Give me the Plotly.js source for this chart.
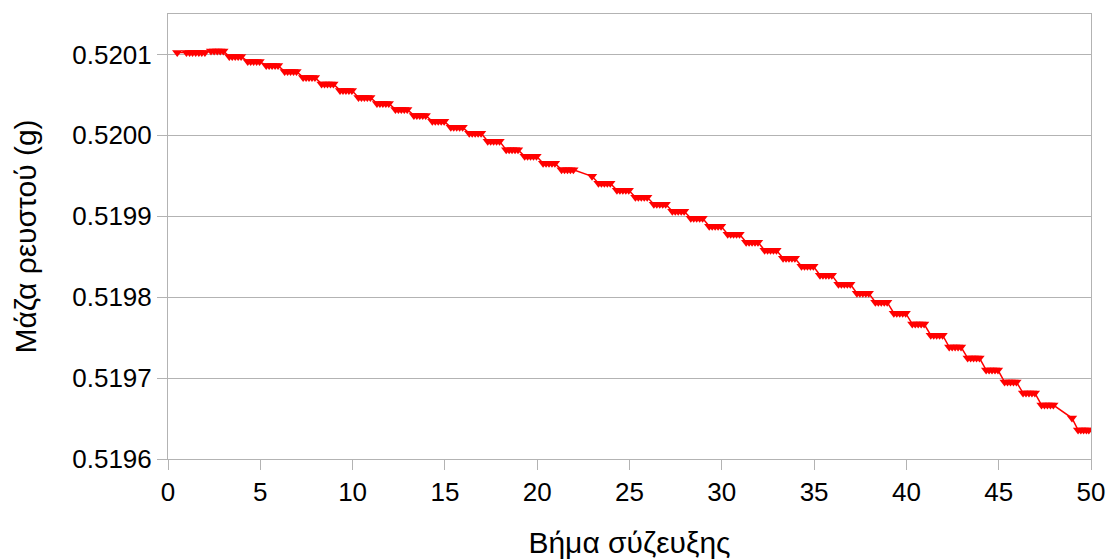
<!DOCTYPE html>
<html>
<head>
<meta charset="utf-8">
<script src="https://cdn.plot.ly/plotly-3.0.1.min.js"></script>
<style>html,body{margin:0;padding:0;background:#fff;}#chart{width:1107px;height:559px;}</style>
</head>
<body>
<div id="chart"></div>
<script>
// Coupling step (x) of each recorded point
const couplingStep = [
  0.5,
  1.0, 1.17, 1.33, 1.5, 1.67, 1.83, 2.0,
  2.33, 2.5, 2.67, 2.83, 3.0,
  3.32, 3.48, 3.64, 3.8, 3.96,
  4.32, 4.48, 4.64, 4.8, 4.96,
  5.32, 5.48, 5.64, 5.8, 5.96,
  6.32, 6.48, 6.64, 6.8, 6.96,
  7.32, 7.48, 7.64, 7.8, 7.96,
  8.32, 8.48, 8.64, 8.8, 8.96,
  9.32, 9.48, 9.64, 9.8, 9.96,
  10.32, 10.48, 10.64, 10.8, 10.96,
  11.32, 11.48, 11.64, 11.8, 11.96,
  12.32, 12.48, 12.64, 12.8, 12.96,
  13.32, 13.48, 13.64, 13.8, 13.96,
  14.32, 14.48, 14.64, 14.8, 14.96,
  15.32, 15.48, 15.64, 15.8, 15.96,
  16.32, 16.48, 16.64, 16.8, 16.96,
  17.32, 17.48, 17.64, 17.8, 17.96,
  18.32, 18.48, 18.64, 18.8, 18.96,
  19.32, 19.48, 19.64, 19.8, 19.96,
  20.32, 20.48, 20.64, 20.8, 20.96,
  21.32, 21.48, 21.64, 21.8, 21.96,
  22.97,
  23.32, 23.48, 23.64, 23.8, 23.96,
  24.32, 24.48, 24.64, 24.8, 24.96,
  25.32, 25.48, 25.64, 25.8, 25.96,
  26.32, 26.48, 26.64, 26.8, 26.96,
  27.32, 27.48, 27.64, 27.8, 27.96,
  28.32, 28.48, 28.64, 28.8, 28.96,
  29.32, 29.48, 29.64, 29.8, 29.96,
  30.32, 30.48, 30.64, 30.8, 30.96,
  31.32, 31.48, 31.64, 31.8, 31.96,
  32.32, 32.48, 32.64, 32.8, 32.96,
  33.32, 33.48, 33.64, 33.8, 33.96,
  34.32, 34.48, 34.64, 34.8, 34.96,
  35.32, 35.48, 35.64, 35.8, 35.96,
  36.32, 36.48, 36.64, 36.8, 36.96,
  37.32, 37.48, 37.64, 37.8, 37.96,
  38.32, 38.48, 38.64, 38.8, 38.96,
  39.32, 39.48, 39.64, 39.8, 39.96,
  40.32, 40.48, 40.64, 40.8, 40.96,
  41.32, 41.48, 41.64, 41.8, 41.96,
  42.32, 42.48, 42.64, 42.8, 42.96,
  43.32, 43.48, 43.64, 43.8, 43.96,
  44.32, 44.48, 44.64, 44.8, 44.96,
  45.32, 45.48, 45.64, 45.8, 45.96,
  46.32, 46.48, 46.64, 46.8, 46.96,
  47.32, 47.48, 47.64, 47.8, 47.96,
  48.97,
  49.3, 49.45, 49.6, 49.75, 49.88
];

// Fluid mass (g) at each recorded point
const fluidMass = [
  0.5201025,
  0.5201025, 0.5201025, 0.5201025, 0.5201025, 0.5201025, 0.5201025, 0.5201025,
  0.5201043, 0.5201043, 0.5201043, 0.5201043, 0.5201043,
  0.5200975, 0.5200975, 0.5200975, 0.5200975, 0.5200975,
  0.5200914, 0.5200914, 0.5200914, 0.5200914, 0.5200914,
  0.5200864, 0.5200864, 0.5200864, 0.5200864, 0.5200864,
  0.5200790, 0.5200790, 0.5200790, 0.5200790, 0.5200790,
  0.5200716, 0.5200716, 0.5200716, 0.5200716, 0.5200716,
  0.5200636, 0.5200636, 0.5200636, 0.5200636, 0.5200636,
  0.5200556, 0.5200556, 0.5200556, 0.5200556, 0.5200556,
  0.5200469, 0.5200469, 0.5200469, 0.5200469, 0.5200469,
  0.5200395, 0.5200395, 0.5200395, 0.5200395, 0.5200395,
  0.5200321, 0.5200321, 0.5200321, 0.5200321, 0.5200321,
  0.5200247, 0.5200247, 0.5200247, 0.5200247, 0.5200247,
  0.5200173, 0.5200173, 0.5200173, 0.5200173, 0.5200173,
  0.5200099, 0.5200099, 0.5200099, 0.5200099, 0.5200099,
  0.5200025, 0.5200025, 0.5200025, 0.5200025, 0.5200025,
  0.5199926, 0.5199926, 0.5199926, 0.5199926, 0.5199926,
  0.5199821, 0.5199821, 0.5199821, 0.5199821, 0.5199821,
  0.5199741, 0.5199741, 0.5199741, 0.5199741, 0.5199741,
  0.5199654, 0.5199654, 0.5199654, 0.5199654, 0.5199654,
  0.5199574, 0.5199574, 0.5199574, 0.5199574, 0.5199574,
  0.5199494,
  0.5199407, 0.5199407, 0.5199407, 0.5199407, 0.5199407,
  0.5199321, 0.5199321, 0.5199321, 0.5199321, 0.5199321,
  0.5199235, 0.5199235, 0.5199235, 0.5199235, 0.5199235,
  0.5199148, 0.5199148, 0.5199148, 0.5199148, 0.5199148,
  0.5199062, 0.5199062, 0.5199062, 0.5199062, 0.5199062,
  0.5198975, 0.5198975, 0.5198975, 0.5198975, 0.5198975,
  0.5198877, 0.5198877, 0.5198877, 0.5198877, 0.5198877,
  0.5198778, 0.5198778, 0.5198778, 0.5198778, 0.5198778,
  0.5198679, 0.5198679, 0.5198679, 0.5198679, 0.5198679,
  0.5198580, 0.5198580, 0.5198580, 0.5198580, 0.5198580,
  0.5198481, 0.5198481, 0.5198481, 0.5198481, 0.5198481,
  0.5198383, 0.5198383, 0.5198383, 0.5198383, 0.5198383,
  0.5198272, 0.5198272, 0.5198272, 0.5198272, 0.5198272,
  0.5198160, 0.5198160, 0.5198160, 0.5198160, 0.5198160,
  0.5198049, 0.5198049, 0.5198049, 0.5198049, 0.5198049,
  0.5197938, 0.5197938, 0.5197938, 0.5197938, 0.5197938,
  0.5197802, 0.5197802, 0.5197802, 0.5197802, 0.5197802,
  0.5197667, 0.5197667, 0.5197667, 0.5197667, 0.5197667,
  0.5197531, 0.5197531, 0.5197531, 0.5197531, 0.5197531,
  0.5197383, 0.5197383, 0.5197383, 0.5197383, 0.5197383,
  0.5197247, 0.5197247, 0.5197247, 0.5197247, 0.5197247,
  0.5197099, 0.5197099, 0.5197099, 0.5197099, 0.5197099,
  0.5196951, 0.5196951, 0.5196951, 0.5196951, 0.5196951,
  0.5196815, 0.5196815, 0.5196815, 0.5196815, 0.5196815,
  0.5196667, 0.5196667, 0.5196667, 0.5196667, 0.5196667,
  0.5196506,
  0.5196358, 0.5196358, 0.5196358, 0.5196358, 0.5196358
];

const xTitle = 'Βήμα σύζευξης';
const yTitle = 'Μάζα ρευστού (g)';

const family = '"Liberation Sans", Arial, sans-serif';
const tickFont = {family: family, size: 26, color: '#000'};
const titleFont = {family: family, size: 30, color: '#000'};
const grey = '#b3b3b3';

const trace = {
  x: couplingStep,
  y: fluidMass,
  type: 'scatter',
  mode: 'lines+markers',
  line: {color: '#ff0000', width: 1.5},
  marker: {symbol: 'triangle-down', size: 9, color: '#ff0000'},
  showlegend: false,
  hoverinfo: 'x+y'
};

const layout = {
  width: 1107,
  height: 559,
  margin: {l: 168, r: 16, t: 14, b: 100, pad: 0},
  paper_bgcolor: '#fff',
  plot_bgcolor: '#fff',
  font: tickFont,
  showlegend: false,
  xaxis: {
    range: [0, 50],
    tick0: 0,
    dtick: 5,
    ticks: 'outside',
    ticklen: 10,
    tickwidth: 1,
    tickcolor: grey,
    showgrid: false,
    zeroline: false,
    showline: true,
    mirror: true,
    linecolor: grey,
    linewidth: 1,
    tickfont: tickFont,
    automargin: false,
    title: {text: xTitle, font: titleFont, standoff: 26}
  },
  yaxis: {
    range: [0.5196, 0.52015],
    tick0: 0.5196,
    dtick: 0.0001,
    tickformat: '.4f',
    ticks: 'outside',
    ticklen: 10,
    tickwidth: 1,
    tickcolor: grey,
    showgrid: true,
    gridcolor: grey,
    gridwidth: 1,
    zeroline: false,
    showline: true,
    mirror: true,
    linecolor: grey,
    linewidth: 1,
    tickfont: tickFont,
    automargin: false,
    title: {text: yTitle, font: titleFont, standoff: 26}
  }
};

Plotly.newPlot('chart', [trace], layout, {displayModeBar: false, staticPlot: true});
</script>
</body>
</html>
